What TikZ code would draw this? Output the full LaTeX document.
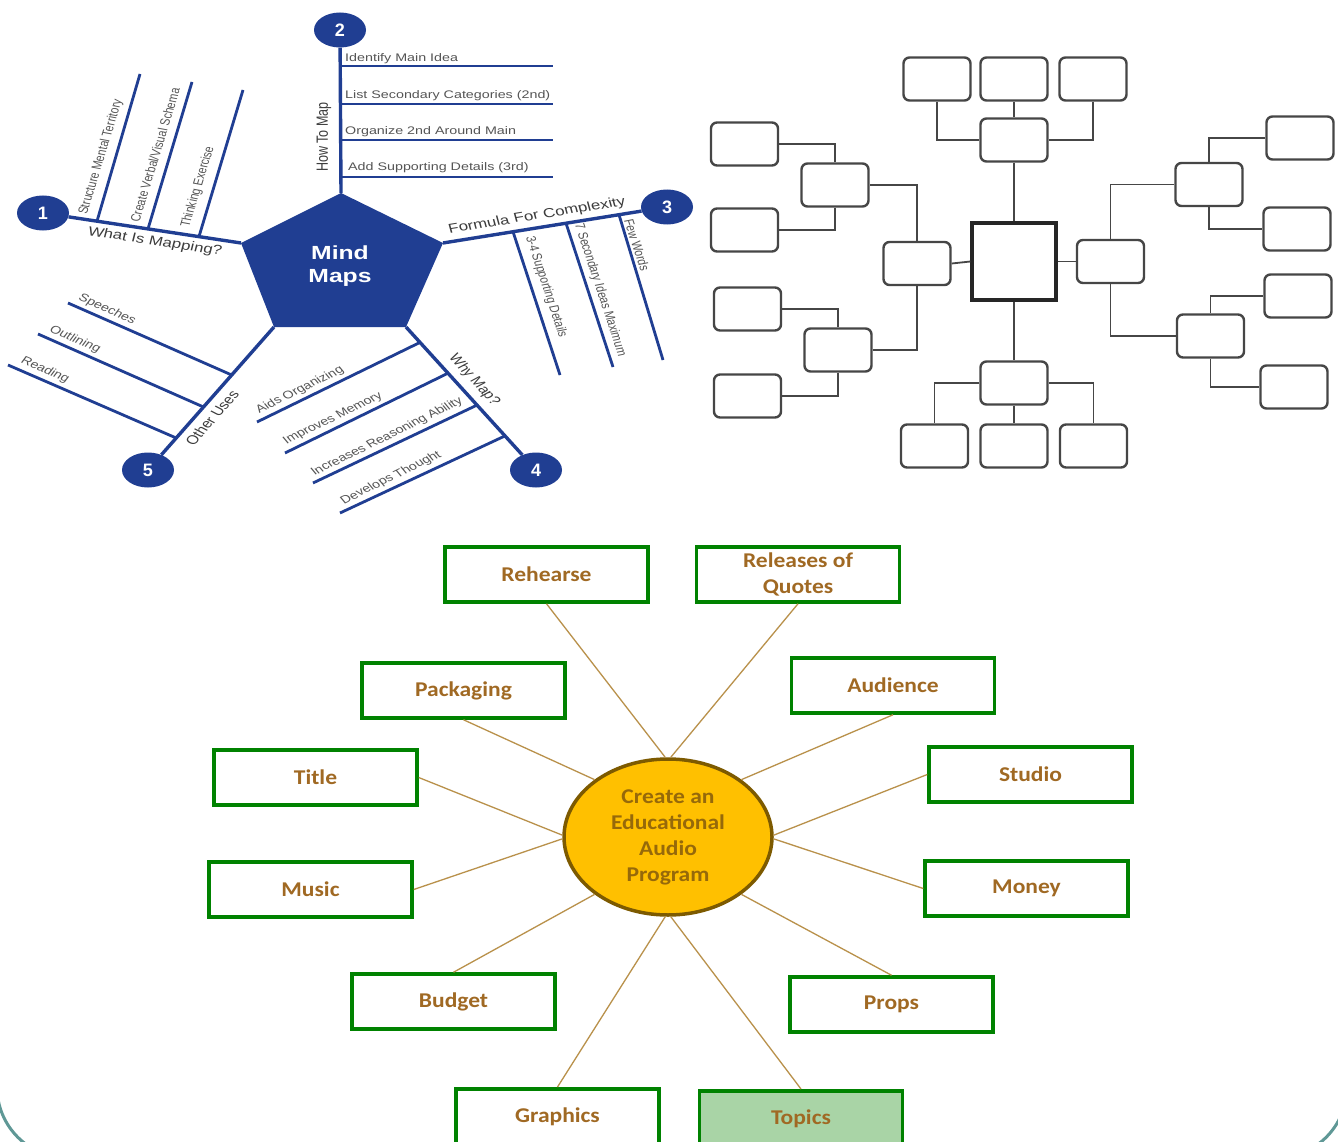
\documentclass[tikz,border=0pt]{standalone}
\usepackage{fontspec}
\newfontfamily\arialf{Liberation Sans}
\newfontfamily\calf[FakeStretch=1.12]{Carlito}
\usetikzlibrary{shapes.geometric}
\definecolor{mmblue}{RGB}{32,62,146}
\definecolor{mmgray}{RGB}{85,85,85}
\definecolor{mmdark}{RGB}{60,60,60}
\definecolor{boxgreen}{RGB}{0,130,0}
\definecolor{txtbrown}{RGB}{160,105,35}
\definecolor{ovalfill}{RGB}{255,192,0}
\definecolor{ovaldraw}{RGB}{125,90,0}
\definecolor{ovaltext}{RGB}{150,105,10}
\definecolor{linktan}{RGB}{185,145,75}
\definecolor{chartgray}{RGB}{70,70,70}
\definecolor{frameteal}{RGB}{95,152,150}
\definecolor{topicfill}{RGB}{169,212,166}
\newcommand{\wtxt}[3]{\scalebox{1.3}[1]{\rotatebox{#1}{\fontsize{#2}{#2}\selectfont #3}}}
\begin{document}
\begin{tikzpicture}[x=1pt,y=-1pt,
  mmline/.style={draw=mmblue, line width=3.4pt},
  subline/.style={draw=mmblue, line width=2.8pt},
  numcirc/.style={ellipse, fill=mmblue, minimum width=52pt, minimum height=35pt, inner sep=0pt, text=white, font=\arialf\bfseries\fontsize{18}{18}\selectfont},
  subtxt/.style={inner sep=0pt, text=mmgray, font=\arialf},
  labtxt/.style={inner sep=0pt, text=mmdark, font=\arialf},
  chartbox/.style={draw=chartgray, line width=2.4pt, rounded corners=6pt, minimum width=67pt, minimum height=43pt, inner sep=0pt, fill=white},
  centerbox/.style={draw=black!85, line width=3.2pt, minimum width=84pt, minimum height=77pt, inner sep=0pt, fill=white},
  chartlink/.style={draw=chartgray, line width=1.8pt},
  goalbox/.style={draw=boxgreen, line width=3.5pt, minimum width=203pt, minimum height=55pt, inner sep=0pt, text=txtbrown, font=\calf\bfseries\fontsize{21}{26}\selectfont, align=center, fill=white},
  tallbox/.style={goalbox, minimum height=0pt, inner ysep=0pt, text height=34pt, text depth=36pt, anchor=north},
  hubnode/.style={ellipse, draw=ovaldraw, line width=3.5pt, fill=ovalfill, minimum width=208pt, minimum height=156pt, inner sep=0pt, text=ovaltext, align=center, font=\calf\bfseries\fontsize{21}{26}\selectfont},
  spoke/.style={draw=linktan, line width=1.3pt}
]
\useasboundingbox (0,0) rectangle (1338,1142);
\clip (0,0) rectangle (1338,1142);
\fill[white] (0,0) rectangle (1338,1142);

% ================= top-left mind map =================
\coordinate (pT) at (341,193);
\coordinate (pL) at (241,243);
\coordinate (pR) at (443,243);
\coordinate (pBL) at (274,327);
\coordinate (pBR) at (406,327);
\fill[mmblue] (pT) -- (pR) -- (pBR) -- (pBL) -- (pL) -- cycle;
\node[inner sep=0pt, text=white, align=center, font=\arialf\bfseries\fontsize{19}{23}\selectfont] (mm) at (340,266) {\wtxt{0}{19}{Mind}\\\wtxt{0}{19}{Maps}};

\node[numcirc] (n1) at (43,213) {1};
\node[numcirc] (n2) at (340,30) {2};
\node[numcirc] (n3) at (667,207) {3};
\node[numcirc] (n4) at (536,470) {4};
\node[numcirc] (n5) at (148,470) {5};

\draw[mmline] (pL) -- (n1);
\draw[mmline] (pT) -- (n2);
\draw[mmline] (pR) -- (n3);
\draw[mmline] (pBR) -- (n4);
\draw[mmline] (pBL) -- (n5);

% branch 1
\coordinate (a1s) at (97,221.2);  \coordinate (a1e) at (140,74);
\coordinate (a2s) at (148,228.9); \coordinate (a2e) at (192,82);
\coordinate (a3s) at (199,236.6); \coordinate (a3e) at (243,90);
\draw[subline] (a1s) -- (a1e);
\draw[subline] (a2s) -- (a2e);
\draw[subline] (a3s) -- (a3e);
\node[labtxt] (l1) at (155,242) {\wtxt{-11.1}{13}{What Is Mapping?}};
\node[subtxt] (t1a) at (101,157) {\wtxt{76.7}{10.5}{Structure Mental Territory}};
\node[subtxt] (t1b) at (155,155) {\wtxt{76.7}{10.5}{Create Verbal/Visual Schema}};
\node[subtxt] (t1c) at (198,187) {\wtxt{76.7}{10.5}{Thinking Exercise}};

% branch 2
\coordinate (b1s) at (340,66);  \coordinate (b1e) at (553,66);
\coordinate (b2s) at (340,104); \coordinate (b2e) at (553,104);
\coordinate (b3s) at (340,140); \coordinate (b3e) at (553,140);
\coordinate (b4s) at (340,177); \coordinate (b4e) at (553,177);
\draw[subline] (b1s) -- (b1e);
\draw[subline] (b2s) -- (b2e);
\draw[subline] (b3s) -- (b3e);
\draw[subline] (b4s) -- (b4e);
\node[labtxt] (l2) at (324,137) {\wtxt{90}{12.5}{How To Map}};
\node[subtxt, anchor=west] (t2a) at (345,59) {\wtxt{0}{11}{Identify Main Idea}};
\node[subtxt, anchor=west] (t2b) at (345,96) {\wtxt{0}{11}{List Secondary Categories (2nd)}};
\node[subtxt, anchor=west] (t2c) at (345,132) {\wtxt{0}{11}{Organize 2nd Around Main}};
\node[subtxt, anchor=west] (t2d) at (348,168) {\wtxt{0}{11}{Add Supporting Details (3rd)}};

% branch 3
\coordinate (c1s) at (513,231.7); \coordinate (c1e) at (560,375);
\coordinate (c2s) at (566,223.2); \coordinate (c2e) at (613,367);
\coordinate (c3s) at (619,214.7); \coordinate (c3e) at (663,360);
\draw[subline] (c1s) -- (c1e);
\draw[subline] (c2s) -- (c2e);
\draw[subline] (c3s) -- (c3e);
\node[labtxt] (l3) at (537,216) {\wtxt{11.8}{13}{Formula For Complexity}};
\node[subtxt] (t3a) at (546,287) {\wtxt{-75.7}{10.5}{3-4 Supporting Details}};
\node[subtxt] (t3b) at (600,290) {\wtxt{-75.7}{10.5}{7 Secondary Ideas Maximum}};
\node[subtxt] (t3c) at (637,245) {\wtxt{-75.7}{10.5}{Few Words}};

% branch 4
\coordinate (d1s) at (420,342.4); \coordinate (d1e) at (257,422);
\coordinate (d2s) at (448,373.2); \coordinate (d2e) at (285,453);
\coordinate (d3s) at (477,405.1); \coordinate (d3e) at (313,483);
\coordinate (d4s) at (505,435.9); \coordinate (d4e) at (340,513);
\draw[subline] (d1s) -- (d1e);
\draw[subline] (d2s) -- (d2e);
\draw[subline] (d3s) -- (d3e);
\draw[subline] (d4s) -- (d4e);
\node[labtxt] (l4) at (474,380) {\wtxt{-55}{12.5}{Why Map?}};
\node[subtxt] (t4a) at (300,390) {\wtxt{32.5}{11}{Aids Organizing}};
\node[subtxt] (t4b) at (333,418.5) {\wtxt{32.5}{11}{Improves Memory}};
\node[subtxt] (t4c) at (387,437) {\wtxt{32.5}{11}{Increases Reasoning Ability}};
\node[subtxt] (t4d) at (391,478) {\wtxt{32.5}{11}{Develops Thought}};

% branch 5
\coordinate (e1s) at (231.7,375); \coordinate (e1e) at (68,303);
\coordinate (e2s) at (203.5,407); \coordinate (e2e) at (38,334);
\coordinate (e3s) at (176.2,438); \coordinate (e3e) at (8,365);
\draw[subline] (e1s) -- (e1e);
\draw[subline] (e2s) -- (e2e);
\draw[subline] (e3s) -- (e3e);
\node[labtxt] (l5) at (212,418) {\wtxt{55.9}{12.5}{Other Uses}};
\node[subtxt] (t5a) at (107,309.4) {\wtxt{-29.7}{11}{Speeches}};
\node[subtxt] (t5b) at (75,339.6) {\wtxt{-29.7}{11}{Outlining}};
\node[subtxt] (t5c) at (45,370) {\wtxt{-29.7}{11}{Reading}};

% ================= top-right chart =================
\node[centerbox] (ctr) at (1014,261.5) {};
\node[chartbox] (tm) at (1014,140) {};
\node[chartbox] (tt1) at (937,79) {};
\node[chartbox] (tt2) at (1014,79) {};
\node[chartbox] (tt3) at (1093,79) {};
\node[chartbox] (lm) at (917,263.5) {};
\node[chartbox] (luc) at (835,185) {};
\node[chartbox] (lg1) at (744.5,144) {};
\node[chartbox] (lg2) at (744.5,230) {};
\node[chartbox] (llc) at (838,350) {};
\node[chartbox] (lg3) at (747.5,309) {};
\node[chartbox] (lg4) at (747.5,396) {};
\node[chartbox] (rm) at (1110.5,261.5) {};
\node[chartbox] (ruc) at (1209,184.5) {};
\node[chartbox] (rg1) at (1300,138) {};
\node[chartbox] (rg2) at (1297,229) {};
\node[chartbox] (rlc) at (1210.5,336) {};
\node[chartbox] (rg3) at (1298,296) {};
\node[chartbox] (rg4) at (1294,387) {};
\node[chartbox] (bm) at (1014,383) {};
\node[chartbox] (bb1) at (934.5,446) {};
\node[chartbox] (bb2) at (1014,446) {};
\node[chartbox] (bb3) at (1093.5,446) {};

\draw[chartlink] (tm.north) -- (tt2.south);
\draw[chartlink] (tt1.south) |- (tm.west);
\draw[chartlink] (tt3.south) |- (tm.east);
\draw[chartlink] (tm.south) -- (ctr.north);
\draw[chartlink] (ctr.west) -- (lm.east);
\draw[chartlink] (ctr.east) -- (rm.west);
\draw[chartlink] (ctr.south) -- (bm.north);
\draw[chartlink] (bm.west) -| (bb1.north);
\draw[chartlink] (bm.south) -- (bb2.north);
\draw[chartlink] (bm.east) -| (bb3.north);
\draw[chartlink] (lm.north) |- (luc.east);
\draw[chartlink] (lm.south) |- (llc.east);
\draw[chartlink] (luc.north) |- (lg1.east);
\draw[chartlink] (luc.south) |- (lg2.east);
\draw[chartlink] (llc.north) |- (lg3.east);
\draw[chartlink] (llc.south) |- (lg4.east);
\draw[chartlink] (rm.north) |- (ruc.west);
\draw[chartlink] (rm.south) |- (rlc.west);
\draw[chartlink] (ruc.north) |- (rg1.west);
\draw[chartlink] (ruc.south) |- (rg2.west);
\draw[chartlink] (rlc.north) |- (rg3.west);
\draw[chartlink] (rlc.south) |- (rg4.west);

% ================= bottom goal map =================
\node[hubnode] (hub) at (668,837) {Create an\\Educational\\Audio\\Program};
\node[goalbox] (reh) at (546.5,574.5) {Rehearse};
\node[goalbox] (rel) at (798,574.5) {Releases of\\Quotes};
\node[goalbox] (pac) at (463.5,690.5) {Packaging};
\node[goalbox] (aud) at (893,685.5) {Audience};
\node[goalbox] (tit) at (315.5,777.5) {Title};
\node[goalbox] (stu) at (1030.5,774.5) {Studio};
\node[goalbox] (mus) at (310.5,889.5) {Music};
\node[goalbox] (mon) at (1026.5,888.5) {Money};
\node[goalbox] (bud) at (453.5,1001.5) {Budget};
\node[goalbox] (pro) at (891.5,1004.5) {Props};
\node[tallbox] (gra) at (557.5,1087) {Graphics};
\node[tallbox, fill=topicfill] (top) at (801,1089) {Topics};

\draw[spoke] (reh.south) -- (hub.92);
\draw[spoke] (rel.south) -- (hub.88);
\draw[spoke] (pac.south) -- (hub.142);
\draw[spoke] (aud.south) -- (hub.38);
\draw[spoke] (tit.east) -- (hub.179);
\draw[spoke] (stu.west) -- (hub.1);
\draw[spoke] (mus.east) -- (hub.181);
\draw[spoke] (mon.west) -- (hub.359);
\draw[spoke] (bud.north) -- (hub.218);
\draw[spoke] (pro.north) -- (hub.322);
\draw[spoke] (gra.north) -- (hub.268);
\draw[spoke] (top.north) -- (hub.272);

% ================= frame =================
\draw[frameteal, line width=3pt, rounded corners=71pt] (-3,1000) -- (-3,1158) -- (1347,1158) -- (1347,1000);
\end{tikzpicture}
\end{document}
